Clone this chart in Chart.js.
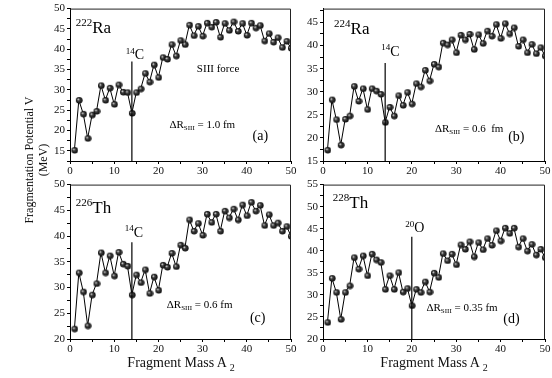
<!DOCTYPE html>
<html>
<head>
<meta charset="utf-8">
<script src="https://cdn.jsdelivr.net/npm/chart.js@4.4.1/dist/chart.umd.min.js"></script>
<style>
  body { margin: 0; background: #fff; width: 552px; height: 378px; position: relative; overflow: hidden;
         font-family: "Liberation Serif", "Times New Roman", serif; color: #111; }
  canvas { position: absolute; }
  .xt { position: absolute; top: 355px; width: 222px; text-align: center; font-size: 14px; }
  .xt span { font-size: 10px; position: relative; top: 4px; }
  .yt { position: absolute; left: -64px; top: 146px; width: 200px; height: 28px; line-height: 14px;
        text-align: center; font-size: 12px; transform: rotate(-90deg); }
</style>
</head>
<body>
<canvas id="pa" width="258" height="176" style="left:40px;top:0px"></canvas>
<canvas id="pb" width="259" height="176" style="left:293px;top:0px"></canvas>
<canvas id="pc" width="258" height="202" style="left:40px;top:176px"></canvas>
<canvas id="pd" width="259" height="202" style="left:293px;top:176px"></canvas>
<div class="yt">Fragmentation Potential V<br>(MeV)</div>
<div class="xt" style="left:70px">Fragment Mass A <span>2</span></div>
<div class="xt" style="left:323px">Fragment Mass A <span>2</span></div>
<script>
// fragment mass A2
const massA = [1, 2, 3, 4, 5, 6, 7, 8, 9, 10, 11, 12, 13, 14, 15, 16, 17, 18, 19, 20,
  21, 22, 23, 24, 25, 26, 27, 28, 29, 30, 31, 32, 33, 34, 35, 36, 37, 38, 39, 40,
  41, 42, 43, 44, 45, 46, 47, 48, 49, 50];

// fragmentation potential V (MeV)
const potRa222 = [15.2, 27.5, 24.1, 18.1, 23.9, 24.8, 31.1, 27.5, 30.5, 26.5, 31.3, 29.5, 29.4, 24.3, 29.4,
  30.3, 34.1, 32.0, 36.2, 33.1, 38.0, 37.6, 41.2, 38.4, 42.2, 41.2, 46.0, 43.4, 45.7, 43.3, 46.5, 45.5,
  46.7, 43.0, 46.4, 44.7, 46.8, 44.5, 46.4, 43.5, 46.5, 45.3, 45.9, 42.1, 43.9, 41.8, 42.9, 40.5, 42.0, 40.3];
const potRa224 = [17.4, 28.3, 24.0, 18.5, 24.1, 24.8, 31.2, 28.0, 30.7, 26.2, 30.7, 30.2, 29.5, 23.4, 26.7,
  24.8, 29.2, 27.1, 29.9, 27.4, 31.8, 31.1, 34.7, 32.4, 36.0, 35.4, 40.6, 40.2, 41.3, 38.5, 42.3, 41.3,
  42.5, 39.2, 42.4, 40.5, 43.2, 42.1, 44.6, 41.6, 44.8, 42.6, 43.9, 39.9, 41.3, 38.5, 40.3, 38.3, 39.6, 37.8];
const potTh226 = [22.0, 32.9, 29.2, 22.6, 28.6, 30.8, 36.8, 32.9, 36.2, 32.3, 36.9, 34.6, 34.2, 28.6, 32.5,
  31.0, 33.5, 28.9, 32.1, 29.5, 34.4, 34.0, 36.7, 34.1, 38.3, 37.7, 43.2, 41.0, 42.5, 40.2, 44.3, 42.7,
  44.3, 41.0, 44.9, 43.6, 45.3, 43.2, 46.1, 44.0, 46.6, 44.9, 46.0, 42.1, 44.2, 42.1, 42.6, 41.0, 41.9, 40.0];
const potTh228 = [23.8, 33.8, 30.6, 24.5, 30.6, 32.1, 38.5, 35.9, 38.9, 34.4, 39.3, 38.0, 37.4, 31.3, 34.4,
  31.3, 35.1, 30.7, 31.5, 27.6, 31.3, 30.6, 33.0, 30.7, 35.0, 34.0, 39.4, 37.8, 39.3, 36.9, 41.4, 40.4,
  42.1, 38.7, 41.9, 40.3, 42.8, 41.3, 44.6, 42.3, 45.2, 44.0, 45.2, 40.9, 42.8, 40.0, 41.5, 39.1, 40.4, 38.5];

// y ranges of the four panels
const yMinList = [12.5, 15, 20, 20];
const yMaxList = [50, 48, 50, 55];

// marked cluster (14C / 20O) and top of its vertical line
const clusterA = [14, 14, 14, 20];
const clusterLineTop = [37.0, 36.2, 38.8, 43.2];

// small shaded ball used as point marker
function ball(r) {
  const c = document.createElement('canvas');
  const s = r * 2 + 2;
  c.width = c.height = s;
  const g = c.getContext('2d');
  const grad = g.createRadialGradient(s / 2 - r * 0.35, s / 2 - r * 0.35, 0.2, s / 2, s / 2, r);
  grad.addColorStop(0, '#e8e8e8');
  grad.addColorStop(0.35, '#444');
  grad.addColorStop(1, '#050505');
  g.fillStyle = grad;
  g.beginPath();
  g.arc(s / 2, s / 2, r, 0, Math.PI * 2);
  g.fill();
  return c;
}
const marker = ball(3.3);

// text notes with super/subscripts, anchored in data coordinates
function notesPlugin(items) {
  return {
    id: 'notes',
    afterDatasetsDraw(chart) {
      const ctx = chart.ctx, xs = chart.scales.x, ys = chart.scales.y;
      ctx.save();
      ctx.fillStyle = '#000';
      ctx.textBaseline = 'middle';
      items.forEach(it => {
        let px = xs.getPixelForValue(it.x);
        const py = ys.getPixelForValue(it.y);
        it.parts.forEach(([txt, kind]) => {
          const size = kind === 'n' ? it.size : Math.round(it.size * 0.66);
          const dy = kind === 'sup' ? -it.size * 0.32 : kind === 'sub' ? it.size * 0.3 : 0;
          ctx.font = size + 'px "Liberation Serif"';
          ctx.fillText(txt, px, py + dy);
          px += ctx.measureText(txt).width;
        });
      });
      // close the frame (top and right)
      const a = chart.chartArea;
      ctx.strokeStyle = '#222';
      ctx.lineWidth = 1;
      ctx.beginPath();
      ctx.moveTo(a.left, a.top + 0.5);
      ctx.lineTo(a.right - 0.5, a.top + 0.5);
      ctx.lineTo(a.right - 0.5, a.bottom);
      ctx.stroke();
      ctx.restore();
    }
  };
}

function makePanel(id, idx, values, pad, xHeight, notes) {
  const tickFont = { family: 'Liberation Serif', size: 11 };
  new Chart(document.getElementById(id), {
    type: 'line',
    data: {
      datasets: [
        {
          data: [{ x: clusterA[idx], y: yMinList[idx] }, { x: clusterA[idx], y: clusterLineTop[idx] }],
          borderColor: '#000', borderWidth: 1.2, pointRadius: 0
        },
        {
          data: values.map((v, i) => ({ x: massA[i], y: v })),
          borderColor: '#000', borderWidth: 1, pointStyle: marker, pointRadius: 3.5
        }
      ]
    },
    options: {
      responsive: false,
      animation: false,
      layout: { padding: pad },
      plugins: { legend: { display: false }, tooltip: { enabled: false } },
      scales: {
        x: {
          type: 'linear', min: 0, max: 50,
          ticks: { stepSize: 5, autoSkip: false, maxTicksLimit: 100, maxRotation: 0, padding: 1, color: '#111',
                   font: tickFont, callback: v => (v % 10 === 0 ? v : '') },
          grid: { drawOnChartArea: false, tickLength: 3, color: '#000' },
          border: { color: '#000', width: 1 },
          afterFit: s => { s.height = xHeight; }
        },
        y: {
          min: yMinList[idx], max: yMaxList[idx],
          ticks: { stepSize: 2.5, includeBounds: false, autoSkip: false, maxTicksLimit: 100, padding: 2,
                   color: '#111', font: tickFont, callback: v => (v % 5 === 0 ? v : '') },
          grid: { drawOnChartArea: false, tickLength: 3, color: '#000' },
          border: { color: '#000', width: 1 },
          afterFit: s => { s.width = 30; }
        }
      }
    },
    plugins: [notesPlugin(notes)]
  });
}

makePanel('pa', 0, potRa222, { top: 6, right: 7, left: 0, bottom: 0 }, 15, [
  { x: 1.3, y: 45.2, size: 17, parts: [['222', 'sup'], ['Ra', 'n']] },
  { x: 12.6, y: 38.4, size: 14, parts: [['14', 'sup'], ['C', 'n']] },
  { x: 28.7, y: 35.2, size: 11, parts: [['SIII force', 'n']] },
  { x: 22.5, y: 21.3, size: 11, parts: [['\u0394R', 'n'], ['SIII', 'sub'], [' = 1.0 fm', 'n']] },
  { x: 41.3, y: 18.6, size: 14, parts: [['(a)', 'n']] }
]);
makePanel('pb', 1, potRa224, { top: 5, right: 7, left: 0, bottom: 0 }, 15, [
  { x: 2.5, y: 43.4, size: 17, parts: [['224', 'sup'], ['Ra', 'n']] },
  { x: 13.1, y: 38.5, size: 14, parts: [['14', 'sup'], ['C', 'n']] },
  { x: 25.2, y: 22.0, size: 11, parts: [['\u0394R', 'n'], ['SIII', 'sub'], [' = 0.6  fm', 'n']] },
  { x: 41.7, y: 20.1, size: 14, parts: [['(b)', 'n']] }
]);
makePanel('pc', 2, potTh226, { top: 7.5, right: 7, left: 0, bottom: 0 }, 39, [
  { x: 1.3, y: 45.3, size: 17, parts: [['226', 'sup'], ['Th', 'n']] },
  { x: 12.4, y: 40.6, size: 14, parts: [['14', 'sup'], ['C', 'n']] },
  { x: 21.9, y: 26.6, size: 11, parts: [['\u0394R', 'n'], ['SIII', 'sub'], [' = 0.6 fm', 'n']] },
  { x: 40.7, y: 24.0, size: 14, parts: [['(c)', 'n']] }
]);
makePanel('pd', 3, potTh228, { top: 7.5, right: 7, left: 0, bottom: 0 }, 39, [
  { x: 2.2, y: 50.8, size: 17, parts: [['228', 'sup'], ['Th', 'n']] },
  { x: 18.5, y: 45.0, size: 14, parts: [['20', 'sup'], ['O', 'n']] },
  { x: 23.3, y: 27.0, size: 11, parts: [['\u0394R', 'n'], ['SIII', 'sub'], [' = 0.35 fm', 'n']] },
  { x: 40.6, y: 24.5, size: 14, parts: [['(d)', 'n']] }
]);
</script>
</body>
</html>
